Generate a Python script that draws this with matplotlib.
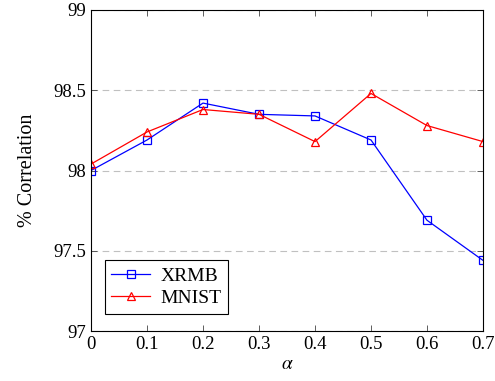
import numpy as np
import matplotlib.pyplot as plt

plt.rcParams['font.family'] = ['Liberation Serif', 'DejaVu Serif']
plt.rcParams['mathtext.fontset'] = 'stix'

alpha = [0, 0.1, 0.2, 0.3, 0.4, 0.5, 0.6, 0.7]
xrmb = [98.00, 98.19, 98.42, 98.35, 98.34, 98.19, 97.69, 97.44]
mnist = [98.04, 98.24, 98.38, 98.35, 98.18, 98.48, 98.28, 98.18]

fig = plt.figure(figsize=(4.95, 3.81), dpi=100)
ax = fig.add_axes([91/495, 1 - 331/381, (483-91)/495, (331-10)/381])

ax.plot(alpha, xrmb, color='blue', lw=0.9, marker='s', ms=6,
        mfc='none', mec='blue', mew=0.9, label='XRMB')
ax.plot(alpha, mnist, color='red', lw=0.9, marker='^', ms=5.5,
        mfc='none', mec='red', mew=0.9, label='MNIST')

ax.set_xlim(0, 0.7)
ax.set_ylim(97, 99)
ax.set_xticks(alpha)
ax.set_xticklabels(['0', '0.1', '0.2', '0.3', '0.4', '0.5', '0.6', '0.7'])
ax.set_yticks([97, 97.5, 98, 98.5, 99])
ax.set_yticklabels(['97', '97.5', '98', '98.5', '99'])
ax.yaxis.grid(True, ls=(0, (6, 4)), color='#c0c0c0', lw=0.8)
ax.tick_params(direction='in', top=True, right=True, labelsize=13.5,
               length=4, width=0.6, color='#444444')
for s in ax.spines.values():
    s.set_linewidth(0.8)

ax.set_xlabel(r'$\alpha$', fontsize=14, labelpad=2)
ax.set_ylabel('% Correlation', fontsize=14.5, labelpad=12)

leg = ax.legend(loc='lower left', bbox_to_anchor=(0.02, 0.035), fontsize=14,
                fancybox=False, edgecolor='black', framealpha=1,
                handlelength=2.0, handletextpad=0.5, borderpad=0.35,
                labelspacing=0.25, borderaxespad=0.3)
leg.get_frame().set_linewidth(0.8)

fig.savefig('out.png', dpi=100)
